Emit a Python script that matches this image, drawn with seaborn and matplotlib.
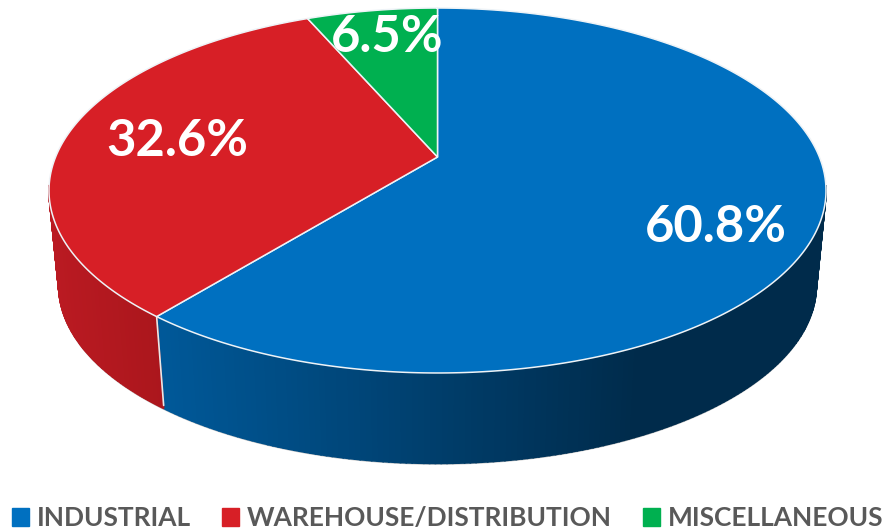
import numpy as np
import seaborn as sns
import matplotlib.pyplot as plt
from matplotlib.patches import Patch

# Chart data
categories = ['INDUSTRIAL', 'WAREHOUSE/DISTRIBUTION', 'MISCELLANEOUS']
shares = [60.8, 32.6, 6.5]
top_colors = ['#0070C0', '#D71F26', '#00B050']

sns.set_theme(style='white')
plt.rcParams['font.family'] = ['Lato', 'DejaVu Sans']

fig, ax = plt.subplots(figsize=(8.96, 5.31), dpi=100)
ax.set_position([0, 0, 1, 1])
ax.set_xlim(0, 896)
ax.set_ylim(531, 0)
ax.axis('off')


# Perspective projection of the unit disc (clockwise angle from 12 o'clock)
def rim(theta):
    u, v = np.sin(theta), np.cos(theta)
    w = 1 + 0.1836 * v
    return 437.5 + 381.9 * u / w, (157 - 147.5 * v) / w


def lower(x, y):
    return 437.5 + 0.975 * (x - 437.5), 285 + 0.975 * (y - 190)


# Side wall shading goes by x position
def wall_color(idx, x):
    t = np.clip((x - 165) / (640 - 165), 0, 1)
    if idx == 0:
        left, right = np.array([0, 88, 152]), np.array([0, 43, 75])
    else:
        t = np.clip((x - 50) / 115, 0, 1)
        left, right = np.array([186, 26, 34]), np.array([170, 22, 28])
    return (left + (right - left) * t) / 255


fracs = np.array(shares) / sum(shares)
edges = np.concatenate([[0], np.cumsum(fracs)]) * 2 * np.pi

# Outer wall, only the front part shows
for i in range(len(shares)):
    if i == 2:
        continue
    ts = np.linspace(edges[i], edges[i + 1], 300)
    x0, y0 = rim(ts)
    x1, y1 = lower(x0, y0)
    for j in range(len(ts) - 1):
        if y0[j] < 186 and y0[j + 1] < 186:
            continue
        c = wall_color(i, x0[j])
        ax.fill([x0[j], x0[j + 1], x1[j + 1], x1[j]],
                [y0[j], y0[j + 1], y1[j + 1], y1[j]],
                facecolor=c, edgecolor=c, lw=1.2, zorder=2)

# Grey hairline under the wall
ts = np.linspace(np.pi / 2, 3 * np.pi / 2, 400)
bx, by = lower(*rim(ts))
ax.plot(bx, by + 0.8, color='#c4c4c4', lw=0.9, zorder=1.5)

# Seam between red and blue on the wall
sx, sy = rim(edges[1])
lx, ly = lower(sx, sy)
ax.plot([sx, lx], [sy, ly - 3], color='#e8e8e8', lw=1.2, zorder=3)

# Top face
for i in range(len(shares)):
    ts = np.linspace(edges[i], edges[i + 1], 300)
    x0, y0 = rim(ts)
    ax.fill(np.r_[437.5, x0], np.r_[157, y0], facecolor=top_colors[i],
            edgecolor='#eef3f7', lw=1.1, joinstyle='round', zorder=4)

# Value labels
label_pos = [(716, 228), (177, 141), (387, 38)]
for v, (x, y) in zip(shares, label_pos):
    ax.text(x, y, f'{v}%', color='white', fontsize=36.5, fontweight='bold',
            ha='center', va='center', zorder=5)

handles = [Patch(color=c) for c in top_colors]
ax.legend(handles, categories, ncol=3, loc='lower left',
          bbox_to_anchor=(12 / 896, 1 - 530 / 531), frameon=False,
          labelcolor='#595959', prop={'weight': 'bold', 'size': 18.9},
          handlelength=0.65, handleheight=0.65, handletextpad=0.3,
          columnspacing=1.18, borderpad=0, borderaxespad=0)

fig.savefig('out.png', dpi=100)
